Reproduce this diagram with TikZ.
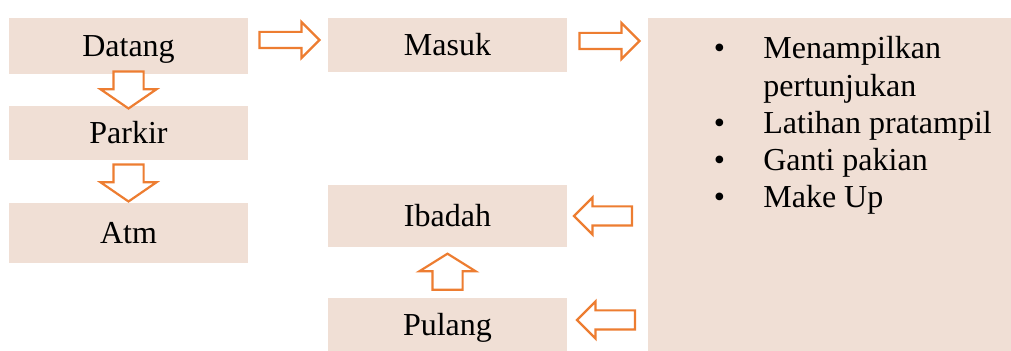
\documentclass[tikz,border=0pt]{standalone}
\usepackage{fontspec}
\setmainfont{Liberation Serif}
\usepackage{array}
\usetikzlibrary{positioning,calc,shapes.arrows}

\definecolor{kotak}{RGB}{240,223,213}
\definecolor{oranye}{RGB}{237,125,49}

\begin{document}
\begin{tikzpicture}[x=0.5pt,y=-0.5pt, font=\fontsize{16}{18.6}\selectfont]
	\useasboundingbox (0,0) rectangle (1011,351);
	\tikzset{box/.style={fill=kotak, minimum width=119.5pt, inner sep=0pt, text height=11pt, text depth=0pt},
		panah/.style={single arrow, draw=oranye, fill=white, line width=1.1pt, line join=miter},
		kanan/.style={panah, inner sep=3.5pt, minimum height=30pt, minimum width=17pt,
			single arrow head extend=5pt, single arrow tip angle=90},
		kiri/.style={kanan, inner sep=4.25pt, minimum height=29pt, minimum width=17.5pt,
			single arrow head extend=4.5pt, rotate=180},
		tegak/.style={panah, inner xsep=1pt, inner ysep=7pt, minimum height=18.5pt, minimum width=27pt,
			single arrow head extend=6.5pt, single arrow tip angle=111},
		bawah/.style={tegak, rotate=-90},
		atas/.style={tegak, minimum height=18pt, minimum width=27.5pt, single arrow tip angle=116, rotate=90}}
	
	% ===== kolom kiri =====
	\node[box, minimum height=28pt] (datang) at (128.5,46) {Datang};
	\node[box, minimum height=27pt] (parkir) at (128.5,133) {Parkir};
	\node[box, minimum height=30pt] (atm) at (128.5,233) {Atm};
	
	% ===== kolom tengah =====
	\node[box, minimum height=27pt] (masuk) at (447.5,45) {Masuk};
	\node[box, minimum height=31pt] (ibadah) at (447.5,216) {Ibadah};
	\node[box, minimum height=26.5pt] (pulang) at (447.5,324.5) {Pulang};
	
	% ===== kotak kanan + daftar =====
	\node[fill=kotak, minimum width=181.5pt, minimum height=166.5pt, inner sep=0pt] (tampil) at (829.5,184.5) {};
	\node[anchor=base west, inner sep=0pt] (daftar) at (713.5,59) {%
		\begin{tabular}[t]{@{}p{24.75pt}@{}>{\raggedright\arraybackslash}p{120pt}@{}}
			\textbullet & Menampilkan pertunjukan\\
			\textbullet & Latihan pratampil\\
			\textbullet & Ganti pakian\\
			\textbullet & Make Up
		\end{tabular}};
	
	% ===== panah =====
	\node[kanan, anchor=tail] (p1) at ($(datang.east)+(10,-6)$) {};
	\node[bawah, anchor=tail] (p2) at ($(datang.south)+(0,-4)$) {};
	\node[bawah, anchor=tail] (p3) at ($(parkir.south)+(0,3)$) {};
	\node[kanan, anchor=tail] (p4) at ($(masuk.east)+(11,-4)$) {};
	\node[kiri, anchor=tip] (p5) at ($(ibadah.east)+(5,0)$) {};
	\node[kiri, anchor=tip] (p6) at ($(pulang.east)+(8,-4.5)$) {};
	\node[atas, anchor=tip] (p7) at ($(ibadah.south)+(0,5)$) {};
\end{tikzpicture}
\end{document}
